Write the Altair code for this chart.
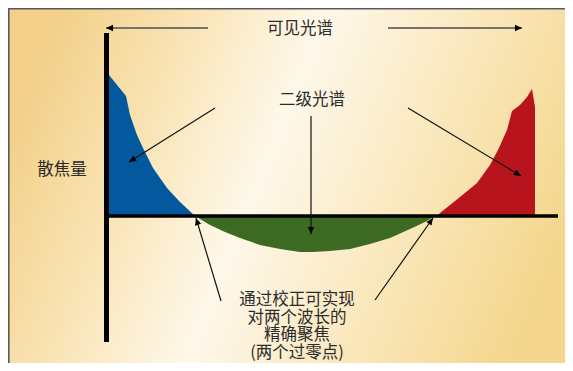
import math
import altair as alt
import pandas as pd

# ---- data (x: wavelength offset, y: defocus) ----
blue_x = [2.5, 19.5, 23.5, 30.5, 36.5, 46.5, 60.5, 73.5, 88.5]
blue_y = [141, 120, 101, 81, 68, 48, 28, 14, 0]

green_x = [88.5, 103.5, 118.5, 133.5, 153.5, 173.5, 193.5, 206.5, 223.5, 243.5, 263.5, 283.5, 303.5, 318.5, 328.5]
green_y = [0, -9, -16, -22, -29, -33, -36, -36, -35, -33, -28, -22, -13, -6, 0]

red_x = [330.5, 333.5, 353.5, 370.5, 383.5, 391.5, 400.5, 405.5, 413.5, 420.5, 425.5, 428.5]
red_y = [0, 3, 19, 33, 51, 66, 86, 105, 111, 119, 127, 109]

# axis extents (data units)
axis_top, axis_bottom, axis_right = 183, -126, 451.5

# annotation arrows: start -> tip
arrow_x = [101.5, 281.5, 108.5, 301.5, 204.5, 114.5, 268.5]
arrow_y = [188, 188, 108, 108, 100, -85, -84]
arrow_x2 = [-0.5, 415.5, 22.5, 414.5, 204.5, 89.5, 326.5]
arrow_y2 = [188, 188, 54, 40, -18, -2, -2]
arrow_kind = ["span", "span", "ptr", "ptr", "ptr", "ptr", "ptr"]

label_text = ["可见光谱", "二级光谱", "散焦量",
              "通过校正可实现\n对两个波长的\n精确聚焦\n(两个过零点)"]
label_x = [193.5, 205.5, -44.5, 190.5]
label_y = [187, 116, 46, -84]

W, H = 557, 355
xs = alt.Scale(domain=[-98.5, 458.5], nice=False, zero=False)
ys = alt.Scale(domain=[-147, 208], nice=False, zero=False)
FONT = "Noto Sans CJK SC"

bg_grad = alt.Gradient(
    gradient="linear",
    stops=[
        alt.GradientStop(color="#f2d08a", offset=0),
        alt.GradientStop(color="#f9e2b0", offset=0.2),
        alt.GradientStop(color="#fef8ea", offset=0.45),
        alt.GradientStop(color="#fae7bb", offset=0.72),
        alt.GradientStop(color="#f4d68c", offset=1),
    ],
    x1=0, y1=0.37, x2=1, y2=0.63,
)
one = pd.DataFrame({"a": [0]})
bg = alt.Chart(one).mark_rect(fill=bg_grad, strokeWidth=0).encode(
    x=alt.value(0), x2=alt.value(W), y=alt.value(0), y2=alt.value(H)
)


def area(xv, yv, color):
    df = pd.DataFrame({"x": xv, "y": yv})
    return alt.Chart(df).mark_area(color=color, opacity=1).encode(
        x=alt.X("x:Q", scale=xs, axis=None),
        y=alt.Y("y:Q", scale=ys, axis=None),
        y2=alt.datum(0),
    )


blue = area(blue_x, blue_y, "#03589e")
green = area(green_x, green_y, "#3d6a23")
red = area(red_x, red_y, "#b8141d")

vaxis = alt.Chart(pd.DataFrame({"x": [0], "y": [axis_top], "y2": [axis_bottom]})).mark_rule(
    color="black", strokeWidth=5, strokeCap="butt").encode(
    x=alt.X("x:Q", scale=xs, axis=None), y=alt.Y("y:Q", scale=ys, axis=None), y2="y2:Q")
haxis = alt.Chart(pd.DataFrame({"x": [0], "x2": [axis_right], "y": [0]})).mark_rule(
    color="black", strokeWidth=3.5, strokeCap="butt").encode(
    x=alt.X("x:Q", scale=xs, axis=None), x2="x2:Q", y=alt.Y("y:Q", scale=ys, axis=None))

arr = pd.DataFrame({"x": arrow_x, "y": arrow_y, "x2": arrow_x2, "y2": arrow_y2, "kind": arrow_kind})
arr["angle"] = [
    math.degrees(math.atan2(-(b2 - b1), a2 - a1)) % 360
    for a1, b1, a2, b2 in zip(arr.x, arr.y, arr.x2, arr.y2)
]
span_lines = alt.Chart(arr[arr.kind == "span"]).mark_rule(color="#77726a", strokeWidth=1.8).encode(
    x=alt.X("x:Q", scale=xs, axis=None), y=alt.Y("y:Q", scale=ys, axis=None), x2="x2:Q", y2="y2:Q")
ptr_lines = alt.Chart(arr[arr.kind == "ptr"]).mark_rule(color="#111111", strokeWidth=1.2).encode(
    x=alt.X("x:Q", scale=xs, axis=None), y=alt.Y("y:Q", scale=ys, axis=None), x2="x2:Q", y2="y2:Q")
heads = alt.Chart(arr).mark_point(
    shape="M0,0L-1,-0.45L-1,0.45Z", filled=True, color="black", opacity=1, size=200, strokeWidth=0
).encode(
    x=alt.X("x2:Q", scale=xs, axis=None), y=alt.Y("y2:Q", scale=ys, axis=None),
    angle=alt.Angle("angle:Q", scale=None),
)

labels = alt.Chart(pd.DataFrame({"t": label_text, "x": label_x, "y": label_y})).mark_text(
    font=FONT, fontSize=16.5, color="#2b2b2b", align="center", baseline="middle",
    lineBreak="\n", lineHeight=17.5
).encode(x=alt.X("x:Q", scale=xs, axis=None), y=alt.Y("y:Q", scale=ys, axis=None), text="t:N")

frame_top = alt.Chart(one).mark_rule(color="#5a5a5a", strokeWidth=1.6).encode(
    x=alt.value(0), x2=alt.value(W), y=alt.value(0.8))
frame_left = alt.Chart(one).mark_rule(color="#5a5a5a", strokeWidth=1.6).encode(
    x=alt.value(0.8), y=alt.value(0), y2=alt.value(H))

chart = alt.layer(
    bg, blue, green, red, vaxis, haxis, span_lines, ptr_lines, heads, labels, frame_top, frame_left
).properties(
    width=W, height=H, autosize=alt.AutoSizeParams(type="none"), padding=0
).configure_view(stroke=None).configure(background="white")

chart.save("out.html", embed_options={"renderer": "svg", "actions": False})
